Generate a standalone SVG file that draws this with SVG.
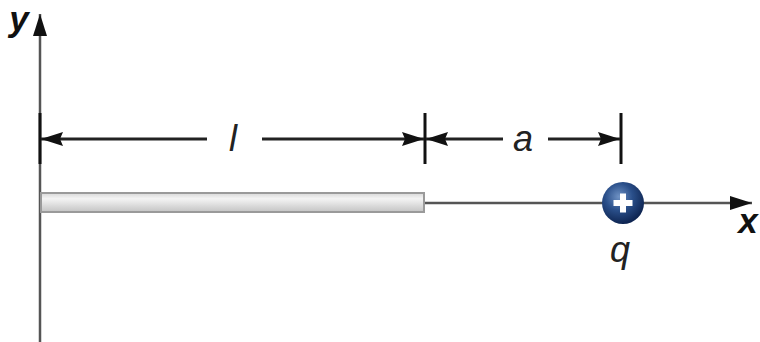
<svg xmlns="http://www.w3.org/2000/svg" width="760" height="342" viewBox="0 0 760 342">
<style>
.axis{stroke:#555;stroke-width:2.5;fill:none}
.dim{stroke:#222;stroke-width:3;fill:none}
.tick{stroke:#111;stroke-width:3}
.lbl{font-family:"Liberation Sans",Arial,sans-serif;font-style:italic;fill:#222;font-size:36px;text-anchor:middle}
.ax{font-family:"Liberation Sans",Arial,sans-serif;font-style:italic;font-weight:bold;fill:#111;font-size:35px;text-anchor:middle}
</style>
<defs>
<linearGradient id="rodg" x1="0" y1="0" x2="0" y2="1">
<stop offset="0" stop-color="#d8d8d8"/>
<stop offset="0.3" stop-color="#f4f4f4"/>
<stop offset="1" stop-color="#c4c4c4"/>
</linearGradient>
<radialGradient id="qg" cx="0.4" cy="0.35" r="0.65">
<stop offset="0" stop-color="#6f92c4"/>
<stop offset="0.5" stop-color="#2a4f8a"/>
<stop offset="1" stop-color="#0e2552"/>
</radialGradient>
<marker id="ah" viewBox="0 0 22 14" refX="22" refY="7" markerWidth="22" markerHeight="14" markerUnits="userSpaceOnUse" orient="auto">
<path d="M0,0 L22,7 L0,14 L3,7 Z" fill="#111"/>
</marker>
<marker id="axh" viewBox="0 0 22 14" refX="22" refY="7" markerWidth="22" markerHeight="14" markerUnits="userSpaceOnUse" orient="auto">
<path d="M0,0 L22,7 L0,14 Z" fill="#111"/>
</marker>
</defs>
<g id="connectors">
<line class="axis" x1="40" y1="342" x2="40" y2="14" marker-end="url(#axh)"/>
<line class="axis" x1="425" y1="203" x2="752" y2="203" marker-end="url(#axh)"/>
<line class="tick" x1="40" y1="113" x2="40" y2="164"/>
<line class="tick" x1="425" y1="113" x2="425" y2="164"/>
<line class="tick" x1="621" y1="113" x2="621" y2="164"/>
<line class="dim" x1="207" y1="139" x2="41" y2="139" marker-end="url(#ah)"/>
<line class="dim" x1="262" y1="139" x2="424" y2="139" marker-end="url(#ah)"/>
<line class="dim" x1="503" y1="139" x2="426" y2="139" marker-end="url(#ah)"/>
<line class="dim" x1="548" y1="139" x2="620" y2="139" marker-end="url(#ah)"/>
</g>
<g id="rod">
<rect x="41" y="193" width="383" height="19" fill="url(#rodg)" stroke="#9a9a9a" stroke-width="2"/>
</g>
<g id="charge">
<circle cx="623" cy="203" r="21" fill="url(#qg)"/>
<rect x="613.5" y="200" width="19" height="6" fill="#fff"/>
<rect x="620" y="193.5" width="6" height="19" fill="#fff"/>
<text class="lbl" x="620" y="262">q</text>
</g>
<g id="labels">
<text class="ax" x="19" y="31">y</text>
<text class="ax" x="748" y="233">x</text>
<text class="lbl" x="233" y="151">l</text>
<text class="lbl" x="523" y="151">a</text>
</g>
</svg>
